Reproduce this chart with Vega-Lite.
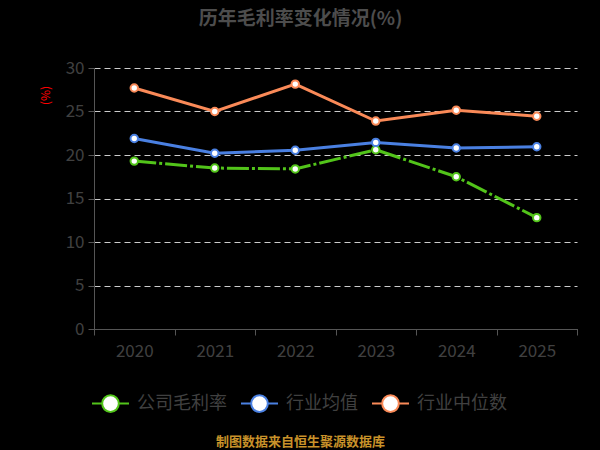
{
  "$schema": "https://vega.github.io/schema/vega-lite/v6.json",
  "width": 483,
  "height": 261,
  "autosize": {"type": "none"},
  "padding": {"left": 94, "top": 68, "right": 23, "bottom": 121},
  "background": "#000000",
  "title": {
    "text": "历年毛利率变化情况(%)",
    "fontSize": 19,
    "fontWeight": "bold",
    "color": "#4d4d4d",
    "offset": 30,
    "dx": -35,
    "anchor": "middle",
    "frame": "group"
  },
  "data": {
    "values": [
      {"year": "2020", "series": "公司毛利率", "value": 19.3},
      {"year": "2021", "series": "公司毛利率", "value": 18.5},
      {"year": "2022", "series": "公司毛利率", "value": 18.4},
      {"year": "2023", "series": "公司毛利率", "value": 20.6},
      {"year": "2024", "series": "公司毛利率", "value": 17.5},
      {"year": "2025", "series": "公司毛利率", "value": 12.8},
      {"year": "2020", "series": "行业均值", "value": 21.9},
      {"year": "2021", "series": "行业均值", "value": 20.2},
      {"year": "2022", "series": "行业均值", "value": 20.55},
      {"year": "2023", "series": "行业均值", "value": 21.45},
      {"year": "2024", "series": "行业均值", "value": 20.8},
      {"year": "2025", "series": "行业均值", "value": 20.95},
      {"year": "2020", "series": "行业中位数", "value": 27.7},
      {"year": "2021", "series": "行业中位数", "value": 25.0},
      {"year": "2022", "series": "行业中位数", "value": 28.15},
      {"year": "2023", "series": "行业中位数", "value": 23.9},
      {"year": "2024", "series": "行业中位数", "value": 25.15},
      {"year": "2025", "series": "行业中位数", "value": 24.45}
    ]
  },
  "encoding": {
    "x": {
      "field": "year",
      "type": "ordinal",
      "scale": {"type": "band", "paddingInner": 0, "paddingOuter": 0},
      "axis": {
        "title": "制图数据来自恒生聚源数据库",
        "titleColor": "#c8922a",
        "titleFontSize": 13,
        "titleFontWeight": "bold",
        "titleX": 206,
        "titleY": 112,
        "titleAlign": "center",
        "titleBaseline": "middle",
        "labelAngle": 0,
        "labelFontSize": 17,
        "labelColor": "#404040",
        "labelPadding": 8,
        "tickBand": "extent",
        "tickSize": 6,
        "tickColor": "#555555",
        "domainColor": "#555555",
        "grid": false
      }
    },
    "y": {
      "field": "value",
      "type": "quantitative",
      "scale": {"domain": [0, 30]},
      "axis": {
        "title": "(%)",
        "titleColor": "#ff0000",
        "titleFontSize": 12,
        "titleFontWeight": "normal",
        "titleX": -49,
        "titleY": 27,
        "titleAlign": "center",
        "titleBaseline": "middle",
        "values": [0, 5, 10, 15, 20, 25, 30],
        "labelFontSize": 17,
        "labelColor": "#404040",
        "labelPadding": 4,
        "tickSize": 6,
        "tickColor": "#555555",
        "domainColor": "#555555",
        "grid": true,
        "gridColor": "#cccccc",
        "gridDash": [6, 4],
        "gridWidth": 1.2
      }
    }
  },
  "layer": [
    {
      "transform": [{"filter": "datum.series != '公司毛利率'"}],
      "mark": {"type": "line", "strokeWidth": 3},
      "encoding": {
        "color": {
          "field": "series",
          "type": "nominal",
          "scale": {
            "domain": ["公司毛利率", "行业均值", "行业中位数"],
            "range": ["#52c41a", "#4a80e2", "#fa8a58"]
          },
          "legend": {
            "title": null,
            "orient": "none",
            "direction": "horizontal",
            "legendX": -3,
            "legendY": 316,
            "labelFontSize": 18,
            "labelColor": "#404040",
            "labelOffset": 7,
            "columnPadding": 10,
            "symbolType": "M-1,0L-0.45,0M0.45,0L1,0M-0.45,0A0.45,0.45,0,1,1,0.45,0A0.45,0.45,0,1,1,-0.45,0Z",
            "symbolSize": 1369,
            "symbolStrokeWidth": 2,
            "symbolFillColor": "#ffffff",
            "symbolDash": [],
            "values": ["公司毛利率", "行业均值", "行业中位数"]
          }
        }
      }
    },
    {
      "transform": [{"filter": "datum.series == '公司毛利率'"}],
      "mark": {"type": "line", "strokeWidth": 3, "strokeDash": [22, 3, 3, 3]},
      "encoding": {
        "color": {"field": "series", "type": "nominal"}
      }
    },
    {
      "mark": {"type": "point", "filled": false, "fill": "#ffffff", "fillOpacity": 1, "size": 55, "strokeWidth": 2, "opacity": 1},
      "encoding": {
        "stroke": {"field": "series", "type": "nominal", "scale": {"domain": ["公司毛利率", "行业均值", "行业中位数"], "range": ["#52c41a", "#4a80e2", "#fa8a58"]}, "legend": null}
      }
    }
  ],
  "config": {
    "font": "Noto Sans CJK SC",
    "view": {"stroke": null}
  }
}
